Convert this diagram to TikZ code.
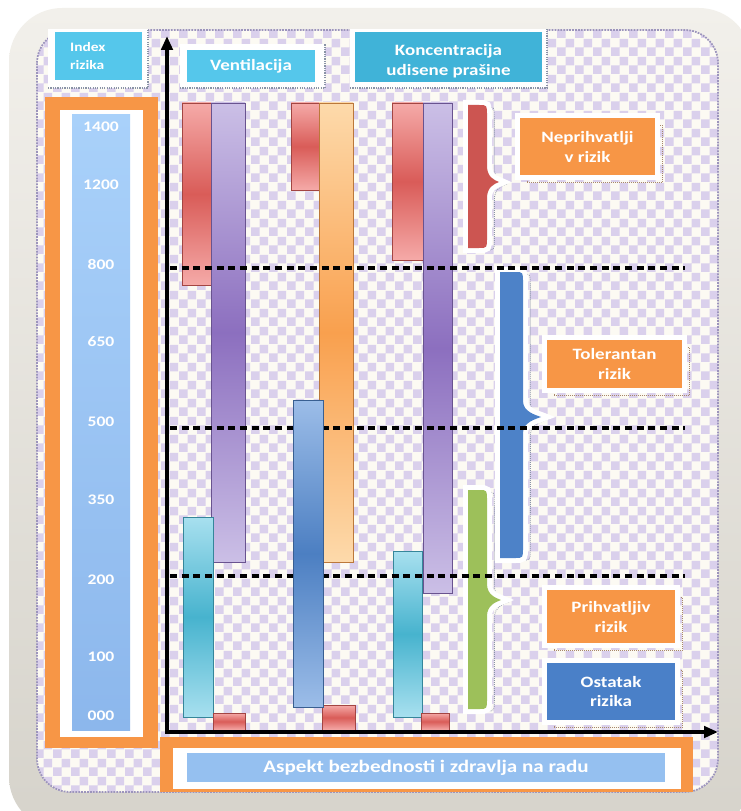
\documentclass[tikz,border=0pt]{standalone}
\usepackage{fontspec}
\setmainfont{Carlito}[FakeStretch=1.2]
\usepackage{tikz}
\usetikzlibrary{arrows.meta, patterns.meta}
\usepackage{xcolor}

\definecolor{framelt}{HTML}{F2F0EB}
\definecolor{framedk}{HTML}{D6D3CB}
\definecolor{cream}{HTML}{FCFAF3}
\definecolor{checklav}{HTML}{DAD0EC}
\definecolor{innerdot}{HTML}{9C94BC}
\definecolor{headcyan}{HTML}{55C7EB}
\definecolor{headcyandk}{HTML}{40B3D8}
\definecolor{dotgrey}{HTML}{8A93A6}
\definecolor{shadowbrown}{HTML}{A8876A}
\definecolor{panelorange}{HTML}{F79646}
\definecolor{scalelt}{HTML}{A9D1FA}
\definecolor{scaledk}{HTML}{8CB7EC}
\definecolor{bandblue}{HTML}{95C0F0}
\definecolor{redlt}{HTML}{F5AAA8}
\definecolor{reddk}{HTML}{D95C58}
\definecolor{purplt}{HTML}{CBBFE6}
\definecolor{purpdk}{HTML}{8C6FBF}
\definecolor{orglt}{HTML}{FDDAAB}
\definecolor{orgdk}{HTML}{F9A04E}
\definecolor{bluelt}{HTML}{9CBDE8}
\definecolor{bluedk}{HTML}{4C7FC2}
\definecolor{cyanlt}{HTML}{A8E0EF}
\definecolor{cyandk}{HTML}{47B3CE}
\definecolor{bracered}{HTML}{CC5551}
\definecolor{braceblue}{HTML}{4D82C8}
\definecolor{bracegreen}{HTML}{9DC05A}
\definecolor{restblue}{HTML}{4A80C8}

\newcommand{\rzlabfont}{\bfseries\fontsize{13.5}{17}\selectfont}
\newcommand{\rzsmallfont}{\bfseries\fontsize{11}{15}\selectfont}
\newcommand{\rznumfont}{\bfseries\fontsize{12.5}{15}\selectfont}
\newcommand{\rzbandfont}{\bfseries\fontsize{15}{18}\selectfont}

% checker background
\pgfdeclarepattern{
  name=riskcheck,
  type=uncolored,
  bottom left={\pgfpoint{0pt}{0pt}},
  top right={\pgfpoint{15pt}{15pt}},
  tile size={\pgfpoint{15pt}{15pt}},
  code={
    \pgfpathrectangle{\pgfpoint{0pt}{0pt}}{\pgfpoint{7.5pt}{7.5pt}}
    \pgfpathrectangle{\pgfpoint{7.5pt}{7.5pt}}{\pgfpoint{7.5pt}{7.5pt}}
    \pgfusepath{fill}
  }
}

\tikzset{
  bar/.style 2 args={top color=#1, bottom color=#1, middle color=#2, draw=#2!75!black, line width=0.5pt},
  headbox/.style={fill=headcyan, text=white, font=\rzlabfont, align=center, inner sep=0pt},
  riskbox/.style={fill=panelorange, text=white, font=\rzlabfont, align=center, inner sep=0pt,
    preaction={draw=shadowbrown, densely dotted, line width=0.7pt, transform canvas={xshift=2.2mm, yshift=-2.2mm}},
    preaction={draw=white, line width=3mm}},
  numlbl/.style={text=white, font=\rznumfont},
  riskline/.style={line width=1.3mm, dash pattern=on 2.1mm off 1.4mm},
  axisline/.style={line width=1.3mm, {Triangle[length=4.2mm, width=3.4mm]}-{Triangle[length=4.2mm, width=3.4mm]}},
  dotline/.style={draw=dotgrey, densely dotted, line width=1pt},
}

\begin{document}
\begin{tikzpicture}[x=0.3mm, y=-0.3mm]
    \useasboundingbox (0,0) rectangle (740,811);
    \fill[white] (0,0) rectangle (740,811);

    % frame and checker area
    \shade[top color=framelt, bottom color=framedk, rounded corners=16mm] (9,8) rectangle (752,830);
    \fill[cream, rounded corners=10mm] (37,30) rectangle (718,792);
    \fill[pattern=riskcheck, pattern color=checklav, rounded corners=10mm] (37,30) rectangle (718,792);
    \draw[innerdot, densely dotted, line width=1.5pt, rounded corners=10mm] (37,30) rectangle (718,792);

    % header boxes
    \fill[white] (48,29) rectangle (148,88);
    \draw[dotline] (48,88) -- (148,88) -- (148,29);
    \node[headbox, minimum width=26.1mm, minimum height=14.4mm, text width=17mm, align=left, font=\rzsmallfont] (index) at (98.5,56) {Index\\rizika};
    \fill[white] (180,44) rectangle (325,88);
    \draw[dotline] (180,88) -- (325,88) -- (325,44);
    \node[headbox, minimum width=38.4mm, minimum height=9.6mm] (vent) at (251,66) {Ventilacija};
    \fill[white] (350,29) rectangle (547,88);
    \draw[dotline] (350,88) -- (547,88) -- (547,29);
    \node[headbox, fill=headcyandk, minimum width=56.1mm, minimum height=15mm] (konc) at (448.5,57) {};
    \node[text=white, font=\rzlabfont, align=center] (konctext) at (448.5,61) {Koncentracija\\udisene prašine};

    % index scale on the left
    \fill[panelorange] (45,97) rectangle (158,748);
    \fill[white] (60,110) rectangle (143,737);
    \shade[top color=scalelt, bottom color=scaledk] (72,115) rectangle (130,730);
    \foreach \val/\yy in {1400/127, 1200/185, 800/264, 650/342, 500/422, 350/500, 200/580, 100/657, 000/716}
        \node[numlbl] (n\val) at (101,\yy) {\val};

    % bottom band
    \fill[panelorange] (160,737) rectangle (693,792);
    \fill[white] (173,748) rectangle (681,789);
    \node[fill=bandblue, text=white, font=\rzbandfont, minimum width=143.4mm, minimum height=8.7mm, inner sep=0pt] (aspect) at (426,767.5) {Aspekt bezbednosti i zdravlja na radu};

    % bars
    \foreach \xa/\xb/\ya/\yb/\lt/\dk in {
        182/211/103/285/redlt/reddk, 211/245/103/562/purplt/purpdk,
        291/319/103/190/redlt/reddk, 319/353/103/562/orglt/orgdk,
        392/423/103/260/redlt/reddk, 423/452/103/593/purplt/purpdk,
        183/213/517/717/cyanlt/cyandk, 393/422/551/717/cyanlt/cyandk}
    {
        \draw[bar={\lt}{\dk}] (\xa,\ya) rectangle (\xb,\yb);
    }
    \foreach \xa/\xb/\ya in {213/245/713, 322/355/705, 421/449/713}
        \draw[bar={redlt}{reddk}] (\xa,\ya) rectangle (\xb,730);

    % braces
    \foreach \col/\xa/\xb/\ya/\yb/\ym/\xt in {bracered/468/487/105/248/182/499,
        braceblue/500/523/272/558/417/541, bracegreen/468/487/490/709/600/501}
    {
        \fill[\col,
            preaction={draw=dotgrey, densely dotted, line width=0.7pt, transform canvas={xshift=2.2mm, yshift=-0.6mm}},
            preaction={draw=white, line width=3mm}]
            (\xa,\ya) -- ({\xb-8},\ya) .. controls (\xb,\ya) .. (\xb,{\ya+10})
            -- (\xb,{\ym-16}) .. controls (\xb,{\ym-5}) and ({\xt-5},{\ym-2}) .. (\xt,\ym)
            .. controls ({\xt-5},{\ym+2}) and (\xb,{\ym+5}) .. (\xb,{\ym+16})
            -- (\xb,{\yb-10}) .. controls (\xb,\yb) .. ({\xb-8},\yb) -- (\xa,\yb) -- cycle;
    }

    % risk levels
    \foreach \yy in {268, 428, 576}
        \draw[riskline] (170,\yy) -- (685,\yy);
    \draw[bar={bluelt}{bluedk}] (293,400) rectangle (323,707);

    % axes
    \coordinate (ytip) at (167,36);
    \coordinate (origin) at (167,732);
    \coordinate (xtip) at (718,732);
    \draw[axisline] (ytip) -- (origin) -- (xtip);

    % labels
    \node[riskbox, minimum width=40.5mm, minimum height=17.1mm] (nepr) at (587.5,146.5) {Neprihvatlji\\v rizik};
    \node[riskbox, minimum width=40.5mm, minimum height=14.4mm] (tol) at (614.5,364) {Tolerantan\\rizik};
    \node[riskbox, minimum width=38.4mm, minimum height=15.9mm] (prih) at (611,616.5) {Prihvatljiv\\rizik};
    \node[riskbox, fill=restblue, minimum width=38.4mm, minimum height=17.1mm] (ost) at (611,691.5) {Ostatak\\rizika};
\end{tikzpicture}
\end{document}
